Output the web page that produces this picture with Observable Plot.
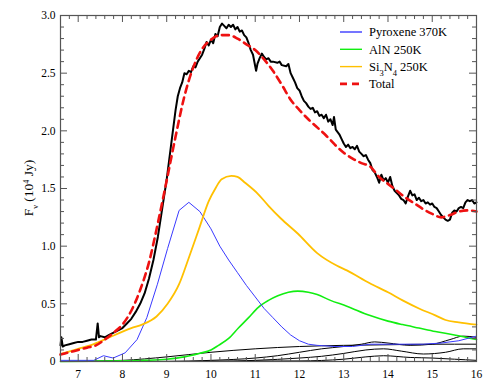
<!DOCTYPE html>
<html><head><meta charset="utf-8">
<script src="https://cdn.jsdelivr.net/npm/d3@7"></script>
<script src="https://cdn.jsdelivr.net/npm/@observablehq/plot@0.6"></script>
<style>body{margin:0;background:#fff;font-family:"Liberation Serif",serif}
svg text{font-family:"Liberation Serif","Times New Roman",serif !important}</style>
</head><body><div id="chart"></div>
<script>
// Observed spectrum (black, noisy)
const obsX = [6.60,6.62,6.65,6.7,6.8,6.9,7.0,7.1,7.2,7.3,7.4,7.44,7.47,7.5,7.6,7.7,7.8,7.9,8.0,8.1,8.2,8.3,8.4,8.5,8.6,8.7,8.8,8.9,9.0,9.1,9.2,9.25,9.3,9.35,9.4,9.45,9.5,9.55,9.6,9.65,9.7,9.75,9.8,9.85,9.9,9.95,10.0,10.05,10.1,10.15,10.2,10.25,10.3,10.35,10.4,10.45,10.5,10.55,10.6,10.65,10.7,10.75,10.8,10.85,10.9,10.95,11.0,11.02,11.05,11.1,11.15,11.2,11.25,11.3,11.35,11.4,11.5,11.55,11.6,11.7,11.75,11.8,11.85,11.9,11.95,12.0,12.05,12.1,12.15,12.2,12.25,12.3,12.35,12.4,12.45,12.5,12.55,12.6,12.65,12.7,12.75,12.78,12.82,12.9,12.95,13.0,13.05,13.1,13.15,13.2,13.25,13.3,13.35,13.4,13.45,13.5,13.55,13.6,13.65,13.7,13.75,13.8,13.85,13.9,13.95,14.0,14.05,14.1,14.15,14.2,14.25,14.3,14.35,14.4,14.45,14.5,14.55,14.6,14.65,14.7,14.75,14.8,14.85,14.9,14.95,15.0,15.05,15.1,15.15,15.2,15.25,15.3,15.35,15.4,15.45,15.5,15.55,15.6,15.65,15.7,15.75,15.8,15.85,15.9,15.95,16.0];
const obsY = [0.14,0.21,0.13,0.14,0.15,0.16,0.17,0.17,0.18,0.19,0.19,0.33,0.21,0.22,0.21,0.23,0.25,0.27,0.29,0.33,0.37,0.43,0.50,0.59,0.72,0.88,1.08,1.33,1.58,1.88,2.18,2.30,2.37,2.42,2.50,2.49,2.52,2.51,2.56,2.55,2.60,2.63,2.66,2.71,2.77,2.74,2.79,2.76,2.84,2.82,2.90,2.93,2.91,2.89,2.92,2.90,2.92,2.88,2.90,2.86,2.87,2.83,2.81,2.76,2.70,2.66,2.56,2.52,2.58,2.63,2.67,2.64,2.62,2.63,2.60,2.60,2.59,2.60,2.57,2.56,2.58,2.50,2.46,2.42,2.37,2.35,2.30,2.26,2.24,2.21,2.19,2.20,2.16,2.17,2.13,2.14,2.11,2.14,2.08,2.10,2.05,2.12,2.01,1.97,1.93,1.89,1.86,1.88,1.85,1.86,1.84,1.87,1.82,1.80,1.78,1.79,1.75,1.72,1.66,1.64,1.60,1.55,1.62,1.57,1.59,1.55,1.60,1.52,1.48,1.46,1.44,1.41,1.40,1.37,1.43,1.48,1.44,1.45,1.40,1.42,1.39,1.40,1.37,1.38,1.36,1.37,1.34,1.33,1.30,1.27,1.25,1.23,1.22,1.23,1.29,1.31,1.30,1.33,1.34,1.33,1.38,1.40,1.39,1.40,1.37,1.38];

// Total model (red dashed)
const totX = [6.6,6.8,7.0,7.2,7.4,7.6,7.8,8.0,8.2,8.4,8.6,8.8,9.0,9.2,9.4,9.6,9.8,10.0,10.2,10.4,10.6,10.8,11.0,11.2,11.4,11.6,11.8,12.0,12.2,12.4,12.6,12.8,13.0,13.2,13.4,13.6,13.8,14.0,14.2,14.4,14.6,14.8,15.0,15.2,15.4,15.6,15.8,16.0];
const totY = [0.06,0.08,0.10,0.12,0.14,0.19,0.25,0.32,0.44,0.62,0.86,1.20,1.57,1.95,2.30,2.55,2.71,2.79,2.83,2.83,2.80,2.75,2.70,2.62,2.52,2.40,2.27,2.18,2.10,2.03,1.96,1.88,1.81,1.76,1.72,1.69,1.60,1.54,1.48,1.42,1.37,1.32,1.28,1.25,1.27,1.30,1.31,1.30];

// Pyroxene 370K (blue)
const pyrX = [6.6,7.35,7.57,7.79,8.06,8.33,8.55,8.79,9.02,9.28,9.5,9.75,10.0,10.2,10.4,10.6,10.8,11.0,11.2,11.4,11.6,11.8,12.0,12.2,12.4,12.8,13.2,13.6,14.0,14.4,14.8,15.2,15.6,16.0];
const pyrY = [0.01,0.01,0.05,0.03,0.075,0.19,0.38,0.67,0.98,1.31,1.38,1.30,1.15,1.00,0.88,0.77,0.66,0.56,0.46,0.38,0.30,0.23,0.18,0.15,0.14,0.13,0.13,0.15,0.15,0.15,0.15,0.16,0.18,0.22];

// AlN 250K (green)
const alnX = [6.6,8.0,8.5,9.0,9.4,9.73,10.0,10.17,10.4,10.62,10.85,11.07,11.3,11.51,11.75,11.96,12.2,12.4,12.7,13.07,13.58,14.0,14.33,14.7,15.07,15.5,16.0];
const alnY = [0.0,0.005,0.01,0.02,0.04,0.07,0.10,0.14,0.20,0.29,0.38,0.47,0.53,0.57,0.60,0.61,0.60,0.58,0.53,0.48,0.40,0.35,0.32,0.29,0.26,0.23,0.19];

// Si3N4 250K (yellow)
const sinX = [6.6,7.0,7.35,7.65,7.95,8.2,8.44,8.77,9.02,9.28,9.5,9.73,9.95,10.1,10.24,10.46,10.6,10.77,11.07,11.3,11.58,11.96,12.4,12.85,13.07,13.58,14.0,14.33,14.7,15.07,15.3,15.6,16.0];
const sinY = [0.065,0.11,0.15,0.20,0.25,0.29,0.32,0.39,0.50,0.67,0.90,1.15,1.39,1.50,1.58,1.61,1.60,1.55,1.45,1.35,1.24,1.11,0.94,0.83,0.79,0.68,0.60,0.53,0.46,0.40,0.36,0.34,0.32];

// Other minor components (thin black)
const c1X = [6.6,8.0,9.0,10.0,11.0,12.0,13.0,14.0,15.0,16.0];
const c1Y = [0.0,0.01,0.04,0.08,0.11,0.13,0.14,0.145,0.15,0.15];
const c2X = [6.6,9.0,10.0,11.0,11.5,12.0,12.5,13.0,13.4,13.7,14.0,14.5,15.0,15.4,15.7,16.0];
const c2Y = [0.0,0.0,0.01,0.03,0.05,0.08,0.11,0.13,0.15,0.17,0.16,0.14,0.15,0.19,0.22,0.21];
const c3X = [6.6,10.0,11.0,12.0,12.5,13.0,13.5,13.9,14.3,14.8,15.3,15.7,16.0];
const c3Y = [0.0,0.0,0.01,0.03,0.045,0.07,0.10,0.11,0.09,0.065,0.08,0.11,0.11];
const c4X = [6.6,12.0,13.0,13.5,13.9,14.5,15.0,15.5,16.0];
const c4Y = [0.0,0.005,0.02,0.04,0.05,0.035,0.03,0.02,0.01];

const xTicks = [7,8,9,10,11,12,13,14,15,16];
const yTicks = [0,0.5,1.0,1.5,2.0,2.5,3.0];
const yTickLabels = ["0","0.5","1.0","1.5","2.0","2.5","3.0"];
const legendLabels = ["Pyroxene 370K","AlN 250K","Si3N4 250K","Total"];
const legendColors = ["#3a3aff","#11ee11","#ffc000","#ee1111"];

const xMinor = d3.range(34, 81).map(i => i / 5).filter(v => v > 6.6 && v < 16 && Math.abs(v - Math.round(v)) > 1e-6);
const yMinor = d3.range(1, 30).map(i => i / 10).filter(v => Math.abs(v * 2 - Math.round(v * 2)) > 1e-6);

const pts = (xs, ys) => xs.map((x, i) => ({x, y: ys[i]}));

const W = 491, H = 390, mL = 60, mT = 15, mR = 15, mB = 29;
const fw = W - mL - mR, fh = H - mT - mB;
const axc = "#555";
const font = "\"Liberation Serif\", \"Times New Roman\", serif";

const chart = Plot.plot({
  width: W, height: H,
  marginLeft: mL, marginTop: mT, marginRight: mR, marginBottom: mB,
  style: {fontFamily: font, fontSize: "11.5px", color: "#000", background: "#fff"},
  x: {domain: [6.6, 16]},
  y: {domain: [0, 3]},
  marks: [
    Plot.line(pts(c1X, c1Y), {x: "x", y: "y", stroke: "#000", strokeWidth: 1, curve: "monotone-x"}),
    Plot.line(pts(c2X, c2Y), {x: "x", y: "y", stroke: "#000", strokeWidth: 1, curve: "monotone-x"}),
    Plot.line(pts(c3X, c3Y), {x: "x", y: "y", stroke: "#000", strokeWidth: 1, curve: "monotone-x"}),
    Plot.line(pts(c4X, c4Y), {x: "x", y: "y", stroke: "#000", strokeWidth: 1, curve: "monotone-x"}),
    Plot.line(pts(alnX, alnY), {x: "x", y: "y", stroke: legendColors[1], strokeWidth: 1.6, curve: "monotone-x"}),
    Plot.line(pts(pyrX, pyrY), {x: "x", y: "y", stroke: legendColors[0], strokeWidth: 1}),
    Plot.line(pts(sinX, sinY), {x: "x", y: "y", stroke: legendColors[2], strokeWidth: 1.8, curve: "monotone-x"}),
    Plot.line(pts(obsX, obsY), {x: "x", y: "y", stroke: "#000", strokeWidth: 2}),
    Plot.line(pts(totX, totY), {x: "x", y: "y", stroke: legendColors[3], strokeWidth: 2.6, strokeDasharray: "7,5", curve: "monotone-x"}),
    // inward ticks
    Plot.ruleX(xTicks, {x: d => d, insetTop: fh - 7, stroke: axc}),
    Plot.ruleX(xTicks, {x: d => d, insetBottom: fh - 7, stroke: axc}),
    Plot.ruleX(xMinor, {x: d => d, insetTop: fh - 4, stroke: axc}),
    Plot.ruleX(xMinor, {x: d => d, insetBottom: fh - 4, stroke: axc}),
    Plot.ruleY(yTicks, {y: d => d, insetRight: fw - 7, stroke: axc}),
    Plot.ruleY(yTicks, {y: d => d, insetLeft: fw - 7, stroke: axc}),
    Plot.ruleY(yMinor, {y: d => d, insetRight: fw - 4, stroke: axc}),
    Plot.ruleY(yMinor, {y: d => d, insetLeft: fw - 4, stroke: axc}),
    Plot.axisX(xTicks, {tickSize: 0, tickPadding: 8, label: null}),
    Plot.axisY(yTicks, {tickSize: 0, tickPadding: 5, label: null, tickFormat: d => yTickLabels[yTicks.indexOf(d)]}),
    Plot.frame({stroke: axc, strokeWidth: 1.2})
  ]
});
document.getElementById("chart").appendChild(chart);

const svg = d3.select(chart);
// y-axis label
const yl = svg.append("text")
  .attr("transform", `translate(33,${mT + fh / 2}) rotate(-90)`)
  .attr("text-anchor", "middle")
  .style("font-family", font).style("font-size", "13.5px").attr("fill", "#000");
yl.append("tspan").text("F");
yl.append("tspan").attr("baseline-shift", "sub").style("font-size", "8px").text("ν");
yl.append("tspan").text(" (10");
yl.append("tspan").attr("baseline-shift", "super").style("font-size", "8px").text("4");
yl.append("tspan").text(" Jy)");

// legend
const lg = svg.append("g").attr("text-anchor", "start").style("font-family", font).style("font-size", "12.5px");
legendLabels.forEach((lab, i) => {
  const yy = 32 + i * 17.3;
  lg.append("line").attr("x1", 340).attr("x2", 362).attr("y1", yy).attr("y2", yy)
    .attr("stroke", legendColors[i]).attr("stroke-width", i === 3 ? 2.6 : 1.4)
    .attr("stroke-dasharray", i === 3 ? "7,5" : null);
  const t = lg.append("text").attr("x", 369).attr("y", yy + 4.3).attr("fill", "#000").attr("text-anchor", "start");
  if (lab === "Si3N4 250K") {
    t.append("tspan").text("Si");
    t.append("tspan").attr("baseline-shift", "sub").style("font-size", "8.5px").text("3");
    t.append("tspan").text("N");
    t.append("tspan").attr("baseline-shift", "sub").style("font-size", "8.5px").text("4");
    t.append("tspan").text(" 250K");
  } else {
    t.text(lab);
  }
});
</script>
</body></html>
